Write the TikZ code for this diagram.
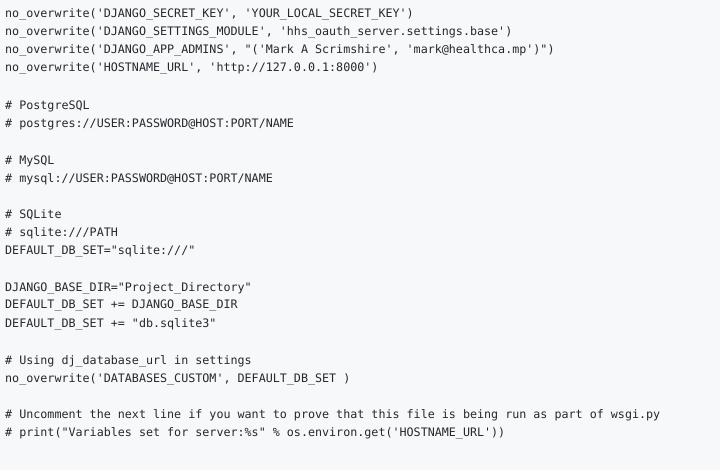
\documentclass[tikz,border=0pt]{standalone}
\usepackage{fontspec}
\setmonofont{DejaVu Sans Mono}[Scale=1]
\definecolor{bg}{HTML}{F6F8FA}
\definecolor{fg}{HTML}{24292E}
\begin{document}
\begin{tikzpicture}[x=1pt,y=-1pt,
  codeline/.style={anchor=west,inner sep=0pt,text=fg,font=\ttfamily\fontsize{11.7}{14}\selectfont}]
\fill[bg] (0,0) rectangle (720,470);
\useasboundingbox (0,0) rectangle (720,470);
\node[codeline] (l1) at (5,14) {no\_overwrite('DJANGO\_SECRET\_KEY', 'YOUR\_LOCAL\_SECRET\_KEY')};
\node[codeline] (l2) at (5,32) {no\_overwrite('DJANGO\_SETTINGS\_MODULE', 'hhs\_oauth\_server.settings.base')};
\node[codeline] (l3) at (5,50) {no\_overwrite('DJANGO\_APP\_ADMINS', "('Mark A Scrimshire', 'mark@healthca.mp')")};
\node[codeline] (l4) at (5,68) {no\_overwrite('HOSTNAME\_URL', 'http://127.0.0.1:8000')};
\node[codeline] (l6) at (5,106) {\# PostgreSQL};
\node[codeline] (l7) at (5,124) {\# postgres://USER:PASSWORD@HOST:PORT/NAME};
\node[codeline] (l9) at (5,161) {\# MySQL};
\node[codeline] (l10) at (5,179) {\# mysql://USER:PASSWORD@HOST:PORT/NAME};
\node[codeline] (l12) at (5,215) {\# SQLite};
\node[codeline] (l13) at (5,233) {\# sqlite:///PATH};
\node[codeline] (l14) at (5,251) {DEFAULT\_DB\_SET="sqlite:///"};
\node[codeline] (l16) at (5,288) {DJANGO\_BASE\_DIR="Project\_Directory"};
\node[codeline] (l17) at (5,306) {DEFAULT\_DB\_SET += DJANGO\_BASE\_DIR};
\node[codeline] (l18) at (5,324) {DEFAULT\_DB\_SET += "db.sqlite3"};
\node[codeline] (l20) at (5,361) {\# Using dj\_database\_url in settings};
\node[codeline] (l21) at (5,379) {no\_overwrite('DATABASES\_CUSTOM', DEFAULT\_DB\_SET )};
\node[codeline] (l23) at (5,415) {\# Uncomment the next line if you want to prove that this file is being run as part of wsgi.py};
\node[codeline] (l24) at (5,433) {\# print("Variables set for server:\%s" \% os.environ.get('HOSTNAME\_URL'))};
\end{tikzpicture}
\end{document}
